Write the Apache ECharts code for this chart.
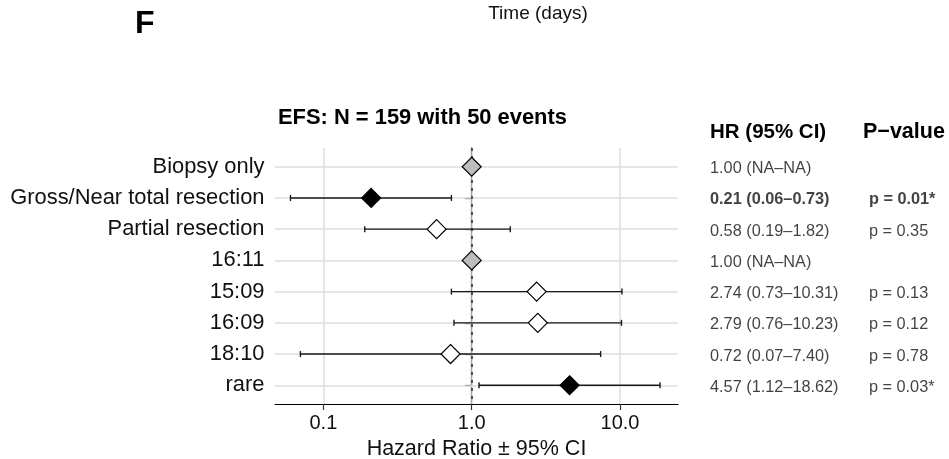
<!DOCTYPE html>
<html>
<head>
<meta charset="utf-8">
<script src="https://cdn.jsdelivr.net/npm/echarts@6/dist/echarts.min.js"></script>
<style>
  html, body { margin: 0; padding: 0; background: #fff; }
  #chart { width: 949px; height: 459px; }
</style>
</head>
<body>
<div id="chart"></div>
<script>
// Cox model results for event-free survival
const categories = ['Biopsy only', 'Gross/Near total resection', 'Partial resection', '16:11', '15:09', '16:09', '18:10', 'rare'];
const hazardRatios = [1.00, 0.21, 0.58, 1.00, 2.74, 2.79, 0.72, 4.57];
const ciLower = [null, 0.06, 0.19, null, 0.73, 0.76, 0.07, 1.12];
const ciUpper = [null, 0.73, 1.82, null, 10.31, 10.23, 7.40, 18.62];
const pValues = [null, 0.01, 0.35, null, 0.13, 0.12, 0.78, 0.03];
const referenceLevel = [true, false, false, true, false, false, false, false];
const boldRows = [false, true, false, false, false, false, false, false];
const xTickValues = [0.1, 1, 10];
const xRange = [0.0472, 24.6];

const FONT = '"Liberation Sans", Arial, Helvetica, sans-serif';
const lg = v => Math.log10(v);
const rows = categories.map((_, i) => i + 1);

function markerFill(i) {
  if (referenceLevel[i]) return '#bdbdbd';
  if (pValues[i] !== null && pValues[i] < 0.05) return '#000000';
  return '#ffffff';
}

const hrText = hazardRatios.map((hr, i) => {
  const lo = ciLower[i] === null ? 'NA' : ciLower[i].toFixed(2);
  const hi = ciUpper[i] === null ? 'NA' : ciUpper[i].toFixed(2);
  return hr.toFixed(2) + ' (' + lo + '\u2013' + hi + ')';
});
const pText = pValues.map(p => p === null ? '' : 'p = ' + p.toFixed(2) + (p < 0.05 ? '*' : ''));

const chart = echarts.init(document.getElementById('chart'), null, { renderer: 'canvas' });

const tableStyle = (i) => ({
  show: true, position: 'right', distance: 0, offset: [0, 2],
  formatter: '{b}', fontFamily: FONT, fontSize: 16.3, color: '#111',
  fontWeight: boldRows[i] ? 'bold' : 'normal'
});

const option = {
  animation: false,
  backgroundColor: '#fff',
  grid: [
    { left: 275, top: 148, right: 271, bottom: 55, outerBoundsMode: 'none', containLabel: false },
    { left: 710, top: 148, right: 0, bottom: 55, outerBoundsMode: 'none', containLabel: false }
  ],
  xAxis: [
    {
      type: 'value', gridIndex: 0,
      min: lg(xRange[0]), max: lg(xRange[1]),
      splitLine: { show: false },
      axisLine: { show: true, lineStyle: { color: '#000', width: 1.2 } },
      axisTick: { show: true, length: 6, customValues: xTickValues.map(lg), lineStyle: { color: '#333', width: 1.2 } },
      axisLabel: {
        customValues: xTickValues.map(lg), margin: 9,
        formatter: v => Math.pow(10, v).toFixed(1),
        fontFamily: FONT, fontSize: 20, color: '#111'
      },
      name: 'Hazard Ratio \u00b1 95% CI', nameLocation: 'middle', nameGap: 44,
      nameTextStyle: { fontFamily: FONT, fontSize: 21.5, color: '#111', verticalAlign: 'middle' }
    },
    { type: 'value', gridIndex: 1, min: 0, max: 1, show: false }
  ],
  yAxis: [
    {
      type: 'value', gridIndex: 0, inverse: true, min: 0.4, max: 8.6,
      splitLine: { show: false },
      axisLine: { show: true, lineStyle: { color: '#000', width: 1.2 } },
      axisTick: { show: true, length: 7, customValues: rows, lineStyle: { color: '#333', width: 1.2 } },
      axisLabel: {
        customValues: rows, margin: 10.5,
        formatter: v => categories[Math.round(v) - 1],
        fontFamily: FONT, fontSize: 21.9, color: '#111'
      }
    },
    { type: 'value', gridIndex: 1, inverse: true, min: 0.4, max: 8.6, show: false }
  ],
  graphic: [
    { type: 'text', x: 135, y: 24, style: { text: 'F', font: 'bold 32px ' + FONT, fill: '#000', align: 'left', verticalAlign: 'middle' } },
    { type: 'text', x: 538, y: 14, style: { text: 'Time (days)', font: '19px ' + FONT, fill: '#111', align: 'center', verticalAlign: 'middle' } },
    { type: 'text', x: 278, y: 117.5, style: { text: 'EFS: N = 159 with 50 events', font: 'bold 21.9px ' + FONT, fill: '#000', align: 'left', verticalAlign: 'middle' } },
    { type: 'text', x: 710, y: 132.5, style: { text: 'HR (95% CI)', font: 'bold 20.5px ' + FONT, fill: '#000', align: 'left', verticalAlign: 'middle' } },
    { type: 'text', x: 863, y: 132.5, style: { text: 'P\u2212value', font: 'bold 21.5px ' + FONT, fill: '#000', align: 'left', verticalAlign: 'middle' } }
  ],
  series: [
    // grid lines and the dotted no-effect reference at HR = 1
    {
      type: 'scatter', xAxisIndex: 0, yAxisIndex: 0, data: [], z: 1, silent: true,
      markLine: {
        z: 1, silent: true, symbol: ['none', 'none'], label: { show: false }, animation: false,
        lineStyle: { color: '#dedede', width: 1.5, type: 'solid' },
        data: xTickValues.map(v => ({ xAxis: lg(v) }))
          .concat(rows.map(r => ({ yAxis: r })))
          .concat([{ xAxis: 0, lineStyle: { color: '#333', width: 1.6, type: [3, 5] } }])
      }
    },
    // confidence interval whiskers
    {
      type: 'custom', xAxisIndex: 0, yAxisIndex: 0, z: 3, silent: true,
      data: rows.filter((_, i) => ciLower[i] !== null).map(r => [lg(ciLower[r - 1]), lg(ciUpper[r - 1]), r]),
      encode: { x: [0, 1], y: 2 },
      renderItem: (params, api) => {
        const y = api.value(2);
        const a = api.coord([api.value(0), y]);
        const b = api.coord([api.value(1), y]);
        const h = 3;
        const st = { stroke: '#1a1a1a', lineWidth: 1.4 };
        return {
          type: 'group', children: [
            { type: 'line', shape: { x1: a[0], y1: a[1], x2: b[0], y2: b[1] }, style: st },
            { type: 'line', shape: { x1: a[0], y1: a[1] - h, x2: a[0], y2: a[1] + h }, style: st },
            { type: 'line', shape: { x1: b[0], y1: b[1] - h, x2: b[0], y2: b[1] + h }, style: st }
          ]
        };
      }
    },
    // point estimates
    {
      type: 'scatter', xAxisIndex: 0, yAxisIndex: 0, z: 4, symbol: 'diamond', symbolSize: 19,
      itemStyle: { borderColor: '#000', borderWidth: 1.2, opacity: 1 },
      data: hazardRatios.map((hr, i) => ({ value: [lg(hr), i + 1], itemStyle: { color: markerFill(i) } }))
    },
    // HR (95% CI) column
    {
      type: 'scatter', xAxisIndex: 1, yAxisIndex: 1, symbolSize: 0, silent: true,
      data: hrText.map((t, i) => ({ name: t, value: [0, i + 1], label: tableStyle(i) }))
    },
    // p-value column
    {
      type: 'scatter', xAxisIndex: 1, yAxisIndex: 1, symbolSize: 0, silent: true,
      data: pText.map((t, i) => ({ name: t, value: [0.665, i + 1], label: tableStyle(i) })).filter(d => d.name !== '')
    }
  ]
};

chart.setOption(option);
</script>
</body>
</html>
